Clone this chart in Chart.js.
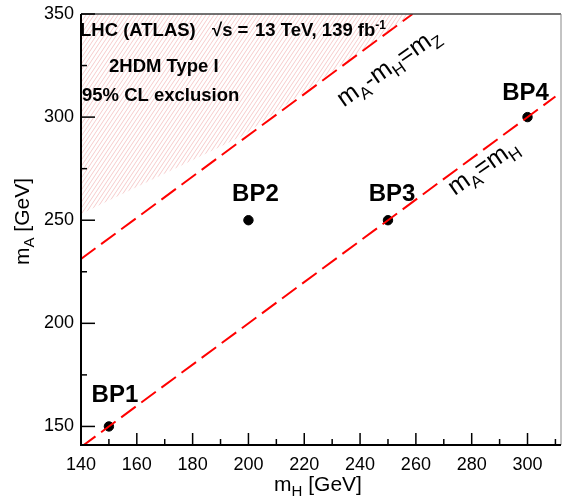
<!DOCTYPE html>
<html>
<head>
<meta charset="utf-8">
<script src="https://cdn.jsdelivr.net/npm/chart.js@4/dist/chart.umd.min.js"></script>
<style>
  body { margin: 0; background: #fff; }
  #c { display: block; }
</style>
</head>
<body>
<canvas id="c" width="563" height="498"></canvas>
<script>
// benchmark points
const bpNames = ['BP1', 'BP2', 'BP3', 'BP4'];
const bpMH = [150, 200, 250, 300];
const bpMA = [150, 250, 250, 300];

// reference lines
const mZ = 91.19;
const equalLineMH = [140, 310];          // mA = mH
const mzLineMH = [140, 258.81];          // mA - mH = mZ

// 95% CL excluded region (lower edge)
const hatchMH = [140, 198, 258.81];
const hatchMA = [253, 291, 350];

// axis ticks
const xTicks = [140, 160, 180, 200, 220, 240, 260, 280, 300];
const xMinor = [150, 170, 190, 210, 230, 250, 270, 290, 310];
const yTicks = [150, 200, 250, 300, 350];
const yMinor = [175, 225, 275, 325];

const FONT = '"Liberation Sans", Arial, Helvetica, sans-serif';
const RED = '#ff0000';

// diagonal hatch pattern
function makeHatch() {
    const w = 4, h = 6;
    const c = document.createElement('canvas');
    c.width = w; c.height = h;
    const g = c.getContext('2d');
    g.strokeStyle = 'rgba(232,120,120,0.38)';
    g.lineWidth = 1;
    for (const o of [-w, 0, w]) {
        g.beginPath();
        g.moveTo(o - w, 2 * h);
        g.lineTo(o + 2 * w, -h);
        g.stroke();
    }
    return g.createPattern(c, 'repeat');
}

// text with sub/superscripts: parts = [[text, size, dy], ...]
function richWidth(ctx, parts, weight) {
    let w = 0;
    parts.forEach(p => {
        ctx.font = `${weight} ${p[1]}px ${FONT}`;
        w += ctx.measureText(p[0]).width;
    });
    return w;
}
function drawRich(ctx, parts, x, y, weight, align) {
    let cx = x;
    if (align === 'center') cx = x - richWidth(ctx, parts, weight) / 2;
    ctx.textAlign = 'left';
    ctx.textBaseline = 'alphabetic';
    parts.forEach(p => {
        ctx.font = `${weight} ${p[1]}px ${FONT}`;
        ctx.fillText(p[0], cx, y + (p[2] || 0));
        cx += ctx.measureText(p[0]).width;
    });
}

const decorPlugin = {
    id: 'decor',
    afterDatasetsDraw(chart) {
        const ctx = chart.ctx;
        const a = chart.chartArea;
        const xs = chart.scales.x, ys = chart.scales.y;
        ctx.save();

        // frame
        ctx.lineCap = 'butt';
        ctx.strokeStyle = '#444';
        ctx.lineWidth = 1.5;
        ctx.beginPath(); ctx.moveTo(a.left, a.top); ctx.lineTo(a.right, a.top); ctx.stroke();
        ctx.strokeStyle = '#888';
        ctx.lineWidth = 1;
        ctx.beginPath(); ctx.moveTo(a.right, a.top); ctx.lineTo(a.right, a.bottom); ctx.stroke();
        ctx.strokeStyle = '#000';
        ctx.lineWidth = 2;
        ctx.beginPath(); ctx.moveTo(a.left, a.top); ctx.lineTo(a.left, a.bottom); ctx.lineTo(a.right, a.bottom); ctx.stroke();

        // inward ticks
        ctx.lineWidth = 1.5;
        const tickX = (v, len) => {
            const px = xs.getPixelForValue(v);
            ctx.beginPath(); ctx.moveTo(px, a.bottom); ctx.lineTo(px, a.bottom - len); ctx.stroke();
        };
        const tickY = (v, len) => {
            const py = ys.getPixelForValue(v);
            ctx.beginPath(); ctx.moveTo(a.left, py); ctx.lineTo(a.left + len, py); ctx.stroke();
        };
        xTicks.forEach(v => tickX(v, 12));
        xMinor.forEach(v => tickX(v, 6));
        yTicks.forEach(v => tickY(v, 14));
        yMinor.forEach(v => tickY(v, 6));

        ctx.fillStyle = '#000';

        // header text
        ctx.font = `bold 18.5px ${FONT}`;
        ctx.textAlign = 'left';
        ctx.textBaseline = 'alphabetic';
        ctx.fillText('LHC (ATLAS)', a.left - 1, 36);
        ctx.fillText('\u221As =', a.left + 131, 36);
        drawRich(ctx, [['13 TeV, 139 fb', 18.5, 0], ['-1', 12, -7]], a.left + 174, 36, 'bold', 'left');
        ctx.font = `bold 18.5px ${FONT}`;
        ctx.fillText('2HDM Type I', a.left + 28, 72);
        ctx.fillText('95% CL exclusion', a.left + 1, 101);

        // benchmark labels
        const bpOff = [[6, -24], [7, -19], [4, -19], [-2, -17]];
        ctx.font = `bold 24px ${FONT}`;
        ctx.textAlign = 'center';
        bpNames.forEach((n, i) => {
            const px = xs.getPixelForValue(bpMH[i]) + bpOff[i][0];
            const py = ys.getPixelForValue(bpMA[i]) + bpOff[i][1];
            ctx.fillText(n, px, py);
        });

        // line labels
        const lineLabel = (parts, mh, ma) => {
            ctx.save();
            ctx.translate(xs.getPixelForValue(mh), ys.getPixelForValue(ma));
            ctx.rotate(-35 * Math.PI / 180);
            drawRich(ctx, parts, 0, 8, 'normal', 'center');
            ctx.restore();
        };
        lineLabel([['m', 25, 0], ['A', 17, 6], ['-m', 25, 0], ['H', 17, 6], ['=m', 25, 0], ['Z', 17, 6]], 250, 324.5);
        lineLabel([['m', 25, 0], ['A', 17, 6], ['=m', 25, 0], ['H', 17, 6]], 284, 276);

        // axis titles
        drawRich(ctx, [['m', 21, 0], ['H', 15, 5], [' [GeV]', 21, 0]], (a.left + a.right) / 2 - 3, 491, 'normal', 'center');
        ctx.save();
        ctx.translate(29, (a.top + a.bottom) / 2 - 8);
        ctx.rotate(-Math.PI / 2);
        drawRich(ctx, [['m', 21, 0], ['A', 15, 5], [' [GeV]', 21, 0]], 0, 0, 'normal', 'center');
        ctx.restore();

        ctx.restore();
    }
};

const chart = new Chart(document.getElementById('c'), {
    type: 'scatter',
    data: {
        datasets: [
            {
                type: 'line',
                data: hatchMH.map((x, i) => ({ x: x, y: hatchMA[i] })),
                showLine: true,
                fill: 'end',
                backgroundColor: makeHatch(),
                borderWidth: 0,
                pointRadius: 0
            },
            {
                type: 'line',
                data: mzLineMH.map(x => ({ x: x, y: x + mZ })),
                showLine: true,
                fill: false,
                borderColor: RED,
                borderWidth: 2,
                borderDash: [18, 7],
                pointRadius: 0
            },
            {
                type: 'line',
                data: equalLineMH.map(x => ({ x: x, y: x })),
                showLine: true,
                fill: false,
                borderColor: RED,
                borderWidth: 2,
                borderDash: [18, 7],
                pointRadius: 0
            },
            {
                data: bpMH.map((x, i) => ({ x: x, y: bpMA[i] })),
                backgroundColor: '#000',
                borderColor: '#000',
                pointRadius: 4.7,
                pointHoverRadius: 4.7
            }
        ]
    },
    options: {
        responsive: false,
        animation: false,
        layout: { autoPadding: false, padding: { top: 14, right: 2, left: 0, bottom: 0 } },
        plugins: { legend: { display: false }, tooltip: { enabled: false } },
        scales: {
            x: {
                type: 'linear',
                min: 140,
                max: 312,
                grid: { display: false, drawTicks: false },
                border: { display: false },
                afterBuildTicks: s => { s.ticks = xTicks.map(v => ({ value: v })); },
                afterFit: s => { s.height = 53; s.paddingLeft = 0; s.paddingRight = 0; },
                ticks: { color: '#000', font: { family: FONT, size: 18 }, padding: 9, maxRotation: 0, autoSkip: false }
            },
            y: {
                type: 'linear',
                min: 141,
                max: 350,
                grid: { display: false, drawTicks: false },
                border: { display: false },
                afterBuildTicks: s => { s.ticks = yTicks.map(v => ({ value: v })); },
                afterFit: s => { s.width = 81; s.paddingTop = 0; s.paddingBottom = 0; },
                ticks: { color: '#000', font: { family: FONT, size: 18 }, padding: 7, autoSkip: false }
            }
        }
    },
    plugins: [decorPlugin]
});
</script>
</body>
</html>
